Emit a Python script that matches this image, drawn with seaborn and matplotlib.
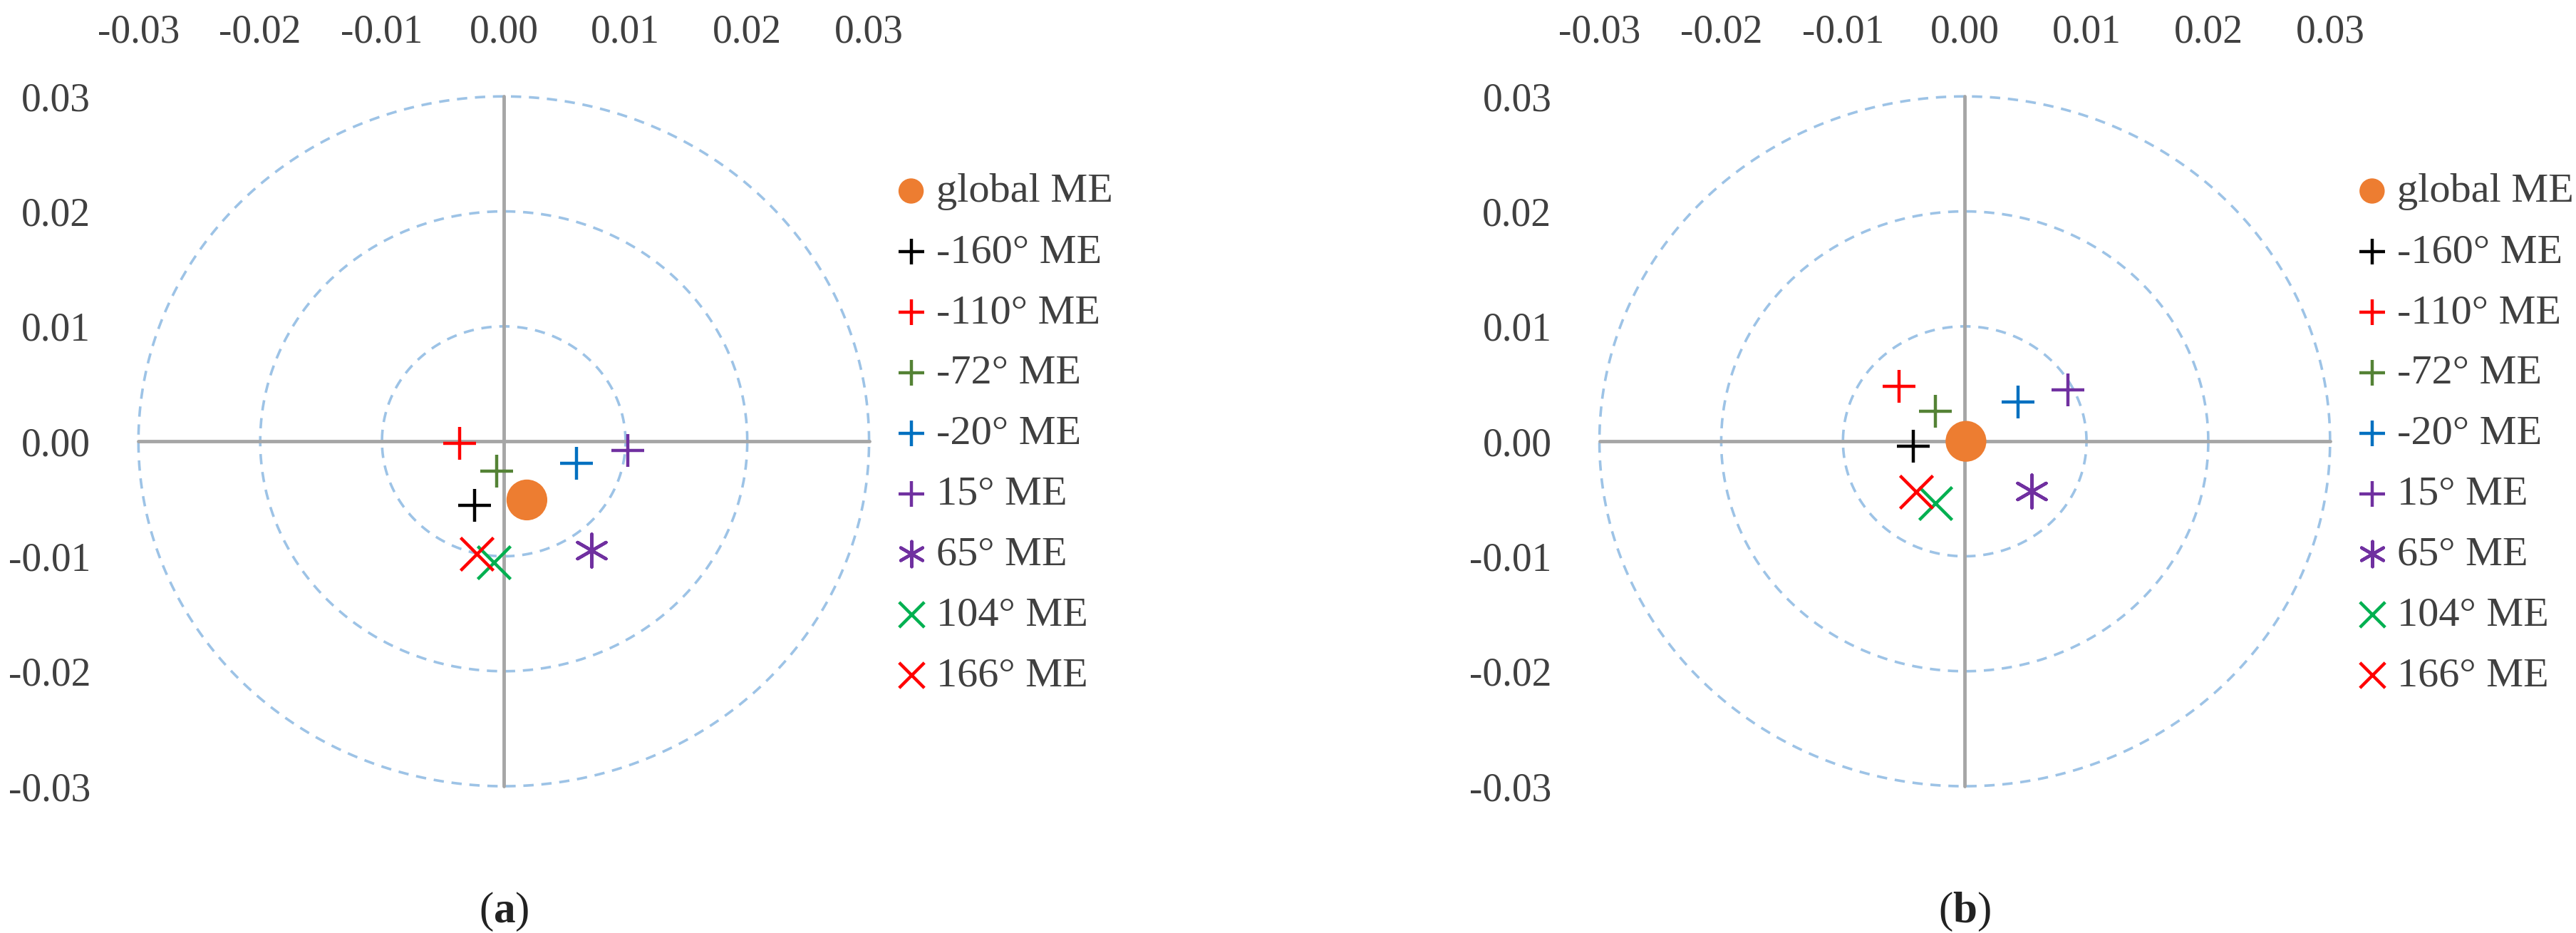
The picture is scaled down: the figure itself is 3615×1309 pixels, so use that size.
import numpy as np
import pandas as pd
import matplotlib
matplotlib.use("Agg")
import matplotlib.pyplot as plt
import seaborn as sns

sns.set_theme(style="white")
plt.rcParams['font.family'] = ['Liberation Serif', 'DejaVu Serif']
plt.rcParams['mathtext.fontset'] = 'custom'
plt.rcParams['mathtext.rm'] = 'Liberation Serif'
plt.rcParams['mathtext.bf'] = 'Liberation Serif:bold'

# series labels and styles
names = ["global ME", "-160\u00b0 ME", "-110\u00b0 ME", "-72\u00b0 ME", "-20\u00b0 ME",
         "15\u00b0 ME", "65\u00b0 ME", "104\u00b0 ME", "166\u00b0 ME"]
colors = ["#ED7D31", "#000000", "#FF0000", "#548235", "#0070C0",
          "#7030A0", "#7030A0", "#00B050", "#FF0000"]
markers = ["o", "+", "+", "+", "+", "+", (6, 2, 0), "x", "x"]

# panel (a)
a_x = [0.0019, -0.0024, -0.0036, -0.0006, 0.0060, 0.0102, 0.0072, -0.0008, -0.0022]
a_y = [-0.0051, -0.0056, -0.0002, -0.0026, -0.0019, -0.0008, -0.0095, -0.0105, -0.0098]
# panel (b)
b_x = [0.0001, -0.0042, -0.0054, -0.0024, 0.0044, 0.0085, 0.0055, -0.0024, -0.0040]
b_y = [0.0000, -0.0004, 0.0048, 0.0026, 0.0034, 0.0045, -0.0043, -0.0054, -0.0044]

ticks = [-0.03, -0.02, -0.01, 0.00, 0.01, 0.02, 0.03]
radii = [0.01, 0.02, 0.03]

fig = plt.figure(figsize=(36.16, 13.09), dpi=100)
ax_a = fig.add_axes([0.049, 0.145, 0.293, 0.764])
ax_b = fig.add_axes([0.616, 0.145, 0.293, 0.764])

for ax, xs, ys, tag in [(ax_a, a_x, a_y, "a"), (ax_b, b_x, b_y, "b")]:
    theta = np.linspace(0, 2 * np.pi, 400)
    for r in radii:
        ax.plot(r * np.cos(theta), r * np.sin(theta), ls=(0, (4, 3)),
                color="#9DC3E6", lw=2.6, zorder=1)
    ax.plot([ticks[0], ticks[-1]], [0, 0], color="#A6A6A6", lw=3.5, zorder=2)
    ax.plot([0, 0], [ticks[0], ticks[-1]], color="#A6A6A6", lw=3.5, zorder=2)

    df = pd.DataFrame({"x": xs, "y": ys, "name": names})
    for i, name in enumerate(names):
        sub = df[df["name"] == name]
        if markers[i] == "o":
            sns.scatterplot(data=sub, x="x", y="y", ax=ax, color=colors[i], marker="o",
                            s=1700, edgecolor="none", label=name, zorder=4)
        else:
            sns.scatterplot(data=sub, x="x", y="y", ax=ax, color=colors[i], marker=markers[i],
                            s=1100, linewidth=3.2, label=name, zorder=3)

    ax.set_xlim(-0.031, 0.031)
    ax.set_ylim(-0.031, 0.031)
    ax.set_xticks(ticks)
    ax.set_yticks(ticks)
    ax.set_xticklabels([f"{t:.2f}" for t in ticks])
    ax.set_yticklabels([f"{t:.2f}" for t in ticks])
    ax.xaxis.tick_top()
    ax.tick_params(axis="x", top=False, bottom=False, labelsize=40, pad=28, colors="#404040")
    ax.tick_params(axis="y", left=False, labelsize=40, pad=30, colors="#404040")
    ax.set_xlabel("")
    ax.set_ylabel("")
    for s in ax.spines.values():
        s.set_visible(False)
    ax.set_facecolor("none")

    leg = ax.legend(loc="upper left", bbox_to_anchor=(0.99, 0.90), frameon=False,
                    fontsize=42, labelspacing=0.55, handletextpad=0.1,
                    handlelength=1.0, borderaxespad=0)
    for t in leg.get_texts():
        t.set_color("#404040")
    for h in leg.legend_handles:
        h.set_sizes([650])

    ax.text(0.5, -0.16, r"($\mathbf{" + tag + r"}$)", transform=ax.transAxes,
            ha="center", va="center", fontsize=44, color="#222222")

fig.savefig("out.png", dpi=100, facecolor="white")
